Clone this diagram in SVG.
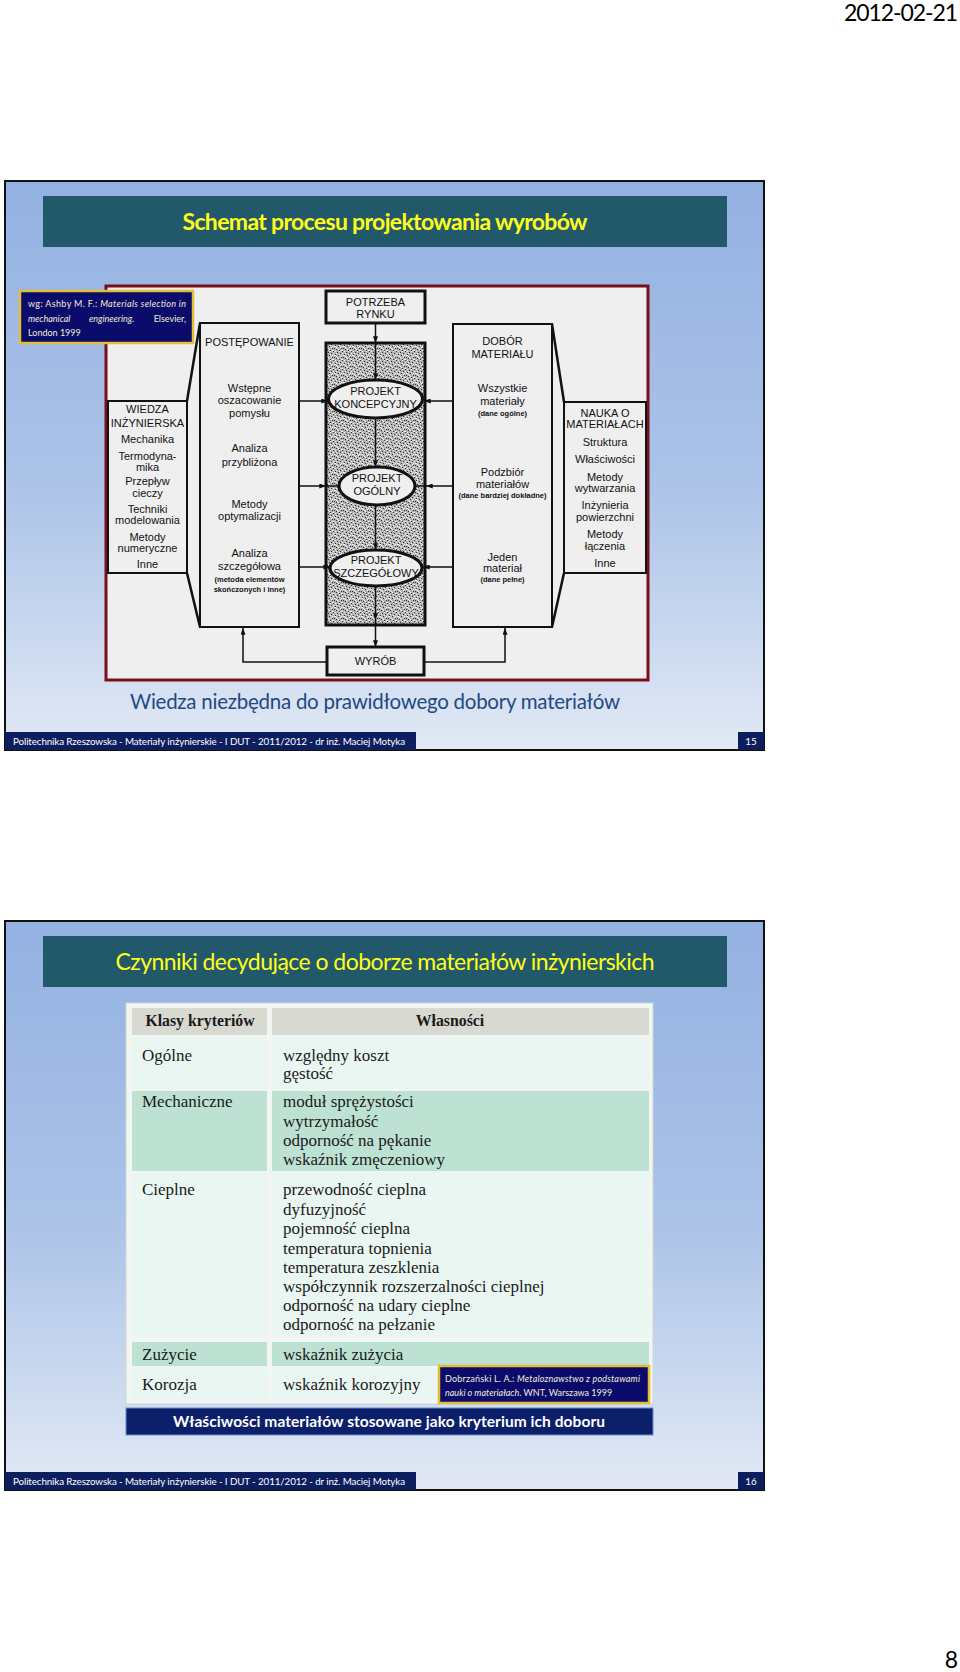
<svg xmlns="http://www.w3.org/2000/svg" width="960" height="1672" viewBox="0 0 960 1672">
<style>
.pg{font-family:Lato,"Liberation Sans",sans-serif;fill:#000;font-size:23px}
.frame{stroke:#111;stroke-width:2}
.tbar{fill:#22596a}
.ttl{font-family:Lato,"Liberation Sans",sans-serif;fill:#ffff1a;font-size:23px;text-anchor:middle}
.foot{fill:#0d1e5e}
.ft{font-family:Lato,"Liberation Sans",sans-serif;fill:#fff;font-size:9.8px}
.refbox{fill:#0b0b6b;stroke:#e3bd35;stroke-width:2.5}
.rt{font-family:Lato,"Liberation Sans",sans-serif;fill:#f1edd2;font-size:9px}
.box{fill:#efefef;stroke:#111;stroke-width:2}
.thick{fill:#efefef;stroke:#111;stroke-width:3}
.d{font-family:"Liberation Sans",Arial,sans-serif;fill:#111;font-size:11px;text-anchor:middle}
.ds{font-family:"Liberation Sans",Arial,sans-serif;fill:#111;font-size:7.5px;font-weight:bold;text-anchor:middle}
.cn{fill:none;stroke:#111;stroke-width:1.5}
.br{fill:none;stroke:#111;stroke-width:2.5}
.tb{font-family:"Liberation Serif","Times New Roman",serif;fill:#1a1a1a;font-size:17px}
.th{font-family:"Liberation Serif","Times New Roman",serif;fill:#1a1a1a;font-size:15.8px;font-weight:bold;text-anchor:middle}
.lt{fill:#eaf6f1}
.mt{fill:#bde2d3}
</style>
<defs>
<linearGradient id="bg" x1="0" y1="0" x2="0" y2="1">
<stop offset="0" stop-color="#93b1e1"/>
<stop offset="0.55" stop-color="#adc4e8"/>
<stop offset="1" stop-color="#e2e9f5"/>
</linearGradient>
<pattern id="stip" width="9" height="9" patternUnits="userSpaceOnUse">
<rect width="9" height="9" fill="#b2b2b2"/>
<path d="M0 0h1v1h-1zM4 1h1v1h-1zM7 2h1v1h-1zM2 3h1v1h-1zM5 4h1v1h-1zM1 6h1v1h-1zM8 6h1v1h-1zM3 7h1v1h-1zM6 8h1v1h-1z" fill="#333"/>
<path d="M2 0h1v1h-1zM6 0h1v1h-1zM0 2h1v1h-1zM3 2h1v1h-1zM8 4h1v1h-1zM1 4h2v1h-2zM4 6h1v1h-1zM7 5h1v1h-1zM0 8h1v1h-1zM5 7h1v1h-1zM8 8h1v1h-1zM6 3h1v1h-1zM3 5h1v1h-1z" fill="#f6f6f6"/>
</pattern>
<marker id="ah" viewBox="0 0 8 6" refX="8" refY="3" markerWidth="7" markerHeight="5" markerUnits="userSpaceOnUse" orient="auto">
<path d="M0,0 L8,3 L0,6 z" fill="#111"/>
</marker>
</defs>
<rect width="960" height="1672" fill="#fff"/>
<text class="pg" x="958" y="21" text-anchor="end" textLength="114">2012-02-21</text>
<text class="pg" x="958" y="1668" text-anchor="end">8</text>

<!-- ============ SLIDE 1 ============ -->
<g id="slide1">
<rect class="frame" x="5" y="181" width="759" height="569" fill="url(#bg)"/>
<g id="title1">
<rect class="tbar" x="43" y="196" width="684" height="51"/>
<text class="ttl" x="385" y="230" font-weight="bold" textLength="405">Schemat procesu projektowania wyrobów</text>
</g>
<rect id="figure1" x="106" y="286" width="542" height="394" fill="#efefef" stroke="#7a0f1c" stroke-width="3"/>
<g id="ref1">
<rect class="refbox" x="20" y="291" width="173" height="52"/>
<text class="rt" x="28" y="307" textLength="158">wg: Ashby M. F.: <tspan font-style="italic">Materials selection in</tspan></text>
<text class="rt" x="28" y="322" font-style="italic">mechanical</text>
<text class="rt" x="89" y="322" font-style="italic">engineering.</text>
<text class="rt" x="186" y="322" text-anchor="end">Elsevier,</text>
<text class="rt" x="28" y="336">London 1999</text>
</g>
<g id="column">
<rect x="326" y="343" width="99" height="282" fill="url(#stip)" stroke="#111" stroke-width="3"/>
</g>
<g id="potrzeba">
<rect class="thick" x="326" y="291" width="99" height="32"/>
<text class="d" x="375.5" y="306">POTRZEBA</text>
<text class="d" x="375.5" y="318">RYNKU</text>
</g>
<g id="wiedza">
<rect class="box" x="108" y="401" width="79" height="172"/>
<text class="d" x="147.5" y="413">WIEDZA</text>
<text class="d" x="147.5" y="427" font-size="10.5">INŻYNIERSKA</text>
<text class="d" x="147.5" y="443">Mechanika</text>
<text class="d" x="147.5" y="460">Termodyna-</text>
<text class="d" x="147.5" y="471">mika</text>
<text class="d" x="147.5" y="485">Przepływ</text>
<text class="d" x="147.5" y="497">cieczy</text>
<text class="d" x="147.5" y="513">Techniki</text>
<text class="d" x="147.5" y="524">modelowania</text>
<text class="d" x="147.5" y="541">Metody</text>
<text class="d" x="147.5" y="552">numeryczne</text>
<text class="d" x="147.5" y="568">Inne</text>
</g>
<g id="postepowanie">
<rect class="box" x="200" y="323" width="99" height="304"/>
<text class="d" x="249.5" y="346">POSTĘPOWANIE</text>
<text class="d" x="249.5" y="392">Wstępne</text>
<text class="d" x="249.5" y="404">oszacowanie</text>
<text class="d" x="249.5" y="417">pomysłu</text>
<text class="d" x="249.5" y="452">Analiza</text>
<text class="d" x="249.5" y="466">przybliżona</text>
<text class="d" x="249.5" y="508">Metody</text>
<text class="d" x="249.5" y="520">optymalizacji</text>
<text class="d" x="249.5" y="557">Analiza</text>
<text class="d" x="249.5" y="570">szczegółowa</text>
<text class="ds" x="249.5" y="582">(metoda elementów</text>
<text class="ds" x="249.5" y="592">skończonych i inne)</text>
</g>
<g id="dobor">
<rect class="box" x="453" y="324" width="99" height="303"/>
<text class="d" x="502.5" y="345">DOBÓR</text>
<text class="d" x="502.5" y="358">MATERIAŁU</text>
<text class="d" x="502.5" y="392">Wszystkie</text>
<text class="d" x="502.5" y="405">materiały</text>
<text class="ds" x="502.5" y="416">(dane ogólne)</text>
<text class="d" x="502.5" y="476">Podzbiór</text>
<text class="d" x="502.5" y="488">materiałów</text>
<text class="ds" x="502.5" y="498" font-size="7">(dane bardziej dokładne)</text>
<text class="d" x="502.5" y="561">Jeden</text>
<text class="d" x="502.5" y="572">materiał</text>
<text class="ds" x="502.5" y="582">(dane pełne)</text>
</g>
<g id="nauka">
<rect class="box" x="564" y="402" width="82" height="171"/>
<text class="d" x="605" y="417">NAUKA O</text>
<text class="d" x="605" y="428" font-size="10.3">MATERIAŁACH</text>
<text class="d" x="605" y="446">Struktura</text>
<text class="d" x="605" y="463">Właściwości</text>
<text class="d" x="605" y="481">Metody</text>
<text class="d" x="605" y="492">wytwarzania</text>
<text class="d" x="605" y="509">Inżynieria</text>
<text class="d" x="605" y="521">powierzchni</text>
<text class="d" x="605" y="538">Metody</text>
<text class="d" x="605" y="550">łączenia</text>
<text class="d" x="605" y="567">Inne</text>
</g>
<g id="koncepcyjny">
<ellipse class="thick" cx="375.5" cy="399" rx="47" ry="19"/>
<text class="d" x="375.5" y="395">PROJEKT</text>
<text class="d" x="375.5" y="408">KONCEPCYJNY</text>
</g>
<g id="ogolny">
<ellipse class="thick" cx="377" cy="486" rx="38" ry="19"/>
<text class="d" x="377" y="482">PROJEKT</text>
<text class="d" x="377" y="495">OGÓLNY</text>
</g>
<g id="szczegolowy">
<ellipse class="thick" cx="376" cy="568" rx="46" ry="18"/>
<text class="d" x="376" y="564">PROJEKT</text>
<text class="d" x="376" y="577" font-size="10.5">SZCZEGÓŁOWY</text>
</g>
<g id="wyrob">
<rect class="thick" x="327" y="647" width="97" height="28"/>
<text class="d" x="375.5" y="665">WYRÓB</text>
</g>
<g id="connectors1">
<path class="cn" d="M375.5,323 V343" marker-end="url(#ah)"/>
<path class="cn" d="M375.5,343 V380" marker-end="url(#ah)"/>
<path class="cn" d="M375.5,418 V467" marker-end="url(#ah)"/>
<path class="cn" d="M375.5,505 V550" marker-end="url(#ah)"/>
<path class="cn" d="M375.5,586 V620" marker-end="url(#ah)"/>
<path class="cn" d="M375.5,620 V647" marker-end="url(#ah)"/>
<path class="cn" d="M299,401 H328" marker-end="url(#ah)"/>
<path class="cn" d="M299,486 H326" marker-end="url(#ah)"/>
<path class="cn" d="M326,486 H339"/>
<path class="cn" d="M299,567 H330" marker-end="url(#ah)"/>
<path class="cn" d="M453,401 H424" marker-end="url(#ah)"/>
<path class="cn" d="M453,486 H426" marker-end="url(#ah)"/>
<path class="cn" d="M426,486 H415"/>
<path class="cn" d="M453,567 H423" marker-end="url(#ah)"/>
<path class="cn" d="M327,662 H243 V628" marker-end="url(#ah)"/>
<path class="cn" d="M424,662 H505 V628" marker-end="url(#ah)"/>
<path class="br" d="M200,323 L187,401"/>
<path class="br" d="M187,573 L200,627"/>
<path class="br" d="M552,324 L564,402"/>
<path class="br" d="M552,627 L564,573"/>
</g>
<text id="caption1" x="375" y="709" font-family="Lato,'Liberation Sans',sans-serif" font-size="20.5" fill="#1f4a82" text-anchor="middle" textLength="490">Wiedza niezbędna do prawidłowego dobory materiałów</text>
<g id="footer1">
<rect class="foot" x="5" y="732" width="411" height="18"/>
<text class="ft" x="13" y="745" textLength="392">Politechnika Rzeszowska - Materiały inżynierskie - I DUT - 2011/2012 - dr inż. Maciej Motyka</text>
<rect class="foot" x="738" y="732" width="26" height="18"/>
<text class="ft" x="751" y="745" text-anchor="middle">15</text>
</g>
</g>

<!-- ============ SLIDE 2 ============ -->
<g id="slide2">
<rect class="frame" x="5" y="921" width="759" height="569" fill="url(#bg)"/>
<g id="title2">
<rect class="tbar" x="43" y="936" width="684" height="51"/>
<text class="ttl" x="385" y="970" textLength="539">Czynniki decydujące o doborze materiałów inżynierskich</text>
</g>
<g id="table">
<rect x="126" y="1003" width="527" height="401" fill="#f2f6f3" stroke="#cfd6d0" stroke-width="1"/>
<g id="hdr">
<rect x="132" y="1008" width="135" height="27" fill="#d8d9d1"/>
<rect x="272" y="1008" width="377" height="27" fill="#d8d9d1"/>
<text class="th" x="200" y="1026">Klasy kryteriów</text>
<text class="th" x="450" y="1026">Własności</text>
</g>
<g id="row-ogolne">
<rect class="lt" x="132" y="1038" width="135" height="51"/>
<rect class="lt" x="272" y="1038" width="377" height="51"/>
<text class="tb" x="142" y="1061">Ogólne</text>
<text class="tb" x="283" y="1061">względny koszt</text>
<text class="tb" x="283" y="1079">gęstość</text>
</g>
<g id="row-mech">
<rect class="mt" x="132" y="1091" width="135" height="80"/>
<rect class="mt" x="272" y="1091" width="377" height="80"/>
<text class="tb" x="142" y="1107">Mechaniczne</text>
<text class="tb" x="283" y="1107">moduł sprężystości</text>
<text class="tb" x="283" y="1127">wytrzymałość</text>
<text class="tb" x="283" y="1146">odporność na pękanie</text>
<text class="tb" x="283" y="1165">wskaźnik zmęczeniowy</text>
</g>
<g id="row-cieplne">
<rect class="lt" x="132" y="1173" width="135" height="164"/>
<rect class="lt" x="272" y="1173" width="377" height="164"/>
<text class="tb" x="142" y="1195">Cieplne</text>
<text class="tb" x="283" y="1195">przewodność cieplna</text>
<text class="tb" x="283" y="1215">dyfuzyjność</text>
<text class="tb" x="283" y="1234">pojemność cieplna</text>
<text class="tb" x="283" y="1254">temperatura topnienia</text>
<text class="tb" x="283" y="1273">temperatura zeszklenia</text>
<text class="tb" x="283" y="1292">współczynnik rozszerzalności cieplnej</text>
<text class="tb" x="283" y="1311">odporność na udary cieplne</text>
<text class="tb" x="283" y="1330">odporność na pełzanie</text>
</g>
<g id="row-zuzycie">
<rect class="mt" x="132" y="1342" width="135" height="24"/>
<rect class="mt" x="272" y="1342" width="377" height="24"/>
<text class="tb" x="142" y="1360">Zużycie</text>
<text class="tb" x="283" y="1360">wskaźnik zużycia</text>
</g>
<g id="row-korozja">
<rect class="lt" x="132" y="1369" width="135" height="31"/>
<rect class="lt" x="272" y="1369" width="377" height="31"/>
<text class="tb" x="142" y="1390">Korozja</text>
<text class="tb" x="283" y="1390">wskaźnik korozyjny</text>
</g>
</g>
<g id="ref2">
<rect class="refbox" x="439" y="1366" width="210" height="37"/>
<text class="rt" x="445" y="1382" textLength="195">Dobrzański L. A.: <tspan font-style="italic">Metaloznawstwo z podstawami</tspan></text>
<text class="rt" x="445" y="1396"><tspan font-style="italic">nauki o materiałach</tspan>. WNT, Warszawa 1999</text>
</g>
<g id="caption2">
<rect x="126" y="1408" width="527" height="27" fill="#0b1f6b" stroke="#6d8cc4" stroke-width="1"/>
<text x="389" y="1427" font-family="Lato,'Liberation Sans',sans-serif" font-size="15.5" font-weight="bold" fill="#fff" text-anchor="middle" textLength="432">Właściwości materiałów stosowane jako kryterium ich doboru</text>
</g>
<g id="footer2">
<rect class="foot" x="5" y="1472" width="411" height="18"/>
<text class="ft" x="13" y="1485" textLength="392">Politechnika Rzeszowska - Materiały inżynierskie - I DUT - 2011/2012 - dr inż. Maciej Motyka</text>
<rect class="foot" x="738" y="1472" width="26" height="18"/>
<text class="ft" x="751" y="1485" text-anchor="middle">16</text>
</g>
</g>
</svg>
